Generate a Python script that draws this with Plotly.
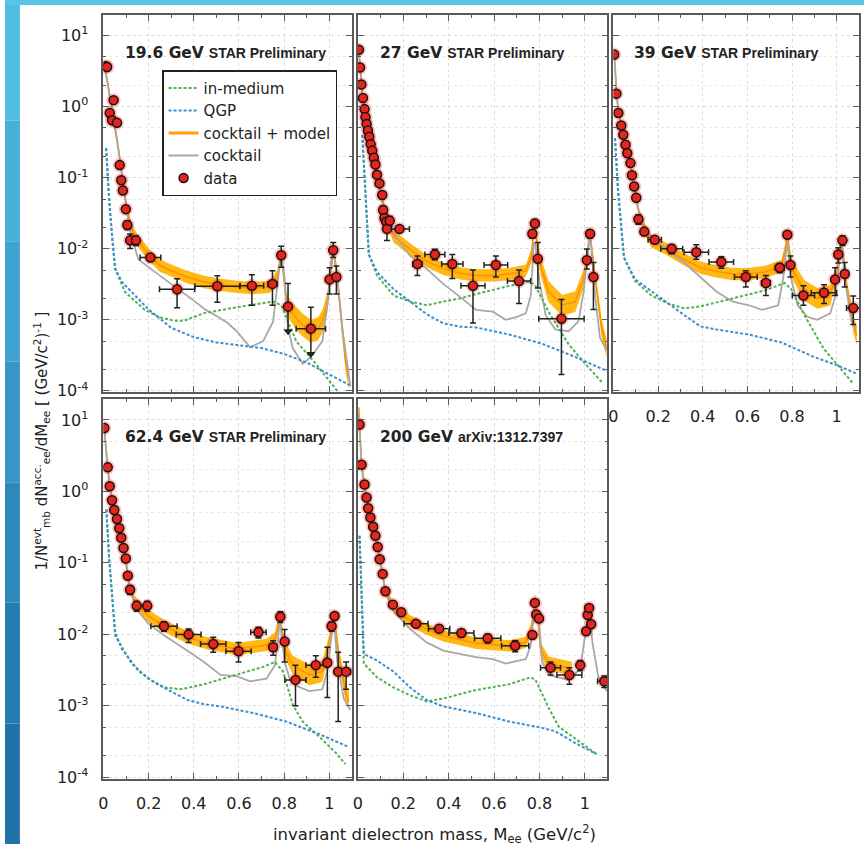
import plotly.graph_objects as go

FIG_W, FIG_H = 864, 852

# ---------------- data ----------------
PANEL_LABELS = ["19.6 GeV", "27 GeV", "39 GeV", "62.4 GeV", "200 GeV"]
PANEL_SOURCES = ["STAR Preliminary", "STAR Preliminary", "STAR Preliminary",
                 "STAR Preliminary", "arXiv:1312.7397"]

X_TICK_VALS = [0, 0.2, 0.4, 0.6, 0.8, 1.0]
X_TICK_TEXT = ["0", "0.2", "0.4", "0.6", "0.8", "1"]
X_MINOR_VALS = [0.1, 0.3, 0.5, 0.7, 0.9, 1.1]
Y_TICK_VALS = [1e-4, 1e-3, 1e-2, 1e-1, 1e0, 1e1]
Y_TICK_TEXT = ["10<sup>-4</sup>", "10<sup>-3</sup>", "10<sup>-2</sup>",
               "10<sup>-1</sup>", "10<sup>0</sup>", "10<sup>1</sup>"]
Y_MINOR_VALS = [2e-4, 5e-4, 2e-3, 5e-3, 2e-2, 5e-2, 0.2, 0.5, 2, 5, 20]

# ---- 19.6 GeV ----
P1_DX = [0.010, 0.016, 0.028, 0.038, 0.045, 0.060, 0.072, 0.079, 0.086, 0.099, 0.106, 0.118,
         0.144, 0.208, 0.326, 0.504, 0.657, 0.748, 0.787, 0.817, 0.918, 1.001, 1.017, 1.031]
P1_DY = [3.7, 3.6, 0.81, 0.64, 1.23, 0.59, 0.15, 0.092, 0.066, 0.036, 0.0216, 0.0131,
         0.0131, 0.0075, 0.00268, 0.00297, 0.0030, 0.0032, 0.0081, 0.00153, 0.00075, 0.0037, 0.0095, 0.0040]
P1_UP = [0, 0, 0, 0, 0, 0, 0, 0, 0, 0.004, 0.003, 0.003,
         0.002, 0.0008, 0.0011, 0.0012, 0.0013, 0.0017, 0.0027, 0.0017, 0.00075, 0.0017, 0.0027, 0.0017]
P1_DN = [0, 0, 0, 0, 0, 0, 0, 0, 0, 0.004, 0.003, 0.003,
         0.002, 0.0008, 0.0012, 0.0012, 0.0014, 0.0016, 0.0026, 0.00084, 0.00042, 0.0014, 0.002, 0.0017]
P1_XE = [0, 0, 0, 0, 0, 0, 0, 0, 0, 0, 0, 0,
         0, 0.046, 0.078, 0.099, 0.052, 0.02, 0, 0, 0.065, 0, 0, 0]
P1_UL_X = [0.817, 0.918]
P1_UL_Y = [0.00069, 0.00033]

P1_QGP_X = [0.012, 0.025, 0.04, 0.052, 0.082, 0.154, 0.2, 0.3, 0.4, 0.5, 0.6, 0.7, 0.8, 0.9, 1.0, 1.09]
P1_QGP_Y = [0.26, 0.05, 0.013, 0.0052, 0.0034, 0.002, 0.0014, 0.00077, 0.00057, 0.00048, 0.00044,
            0.00040, 0.00033, 0.00025, 0.00017, 0.00012]
P1_MED_X = [0.012, 0.025, 0.04, 0.052, 0.096, 0.183, 0.25, 0.314, 0.358, 0.445, 0.59, 0.70, 0.751,
            0.787, 0.82, 0.853, 0.94, 1.03, 1.09]
P1_MED_Y = [0.26, 0.05, 0.013, 0.0052, 0.00245, 0.00138, 0.00108, 0.00097, 0.00097, 0.00124, 0.0015,
            0.0017, 0.0018, 0.0016, 0.0009, 0.0005, 0.00024, 0.000103, 0.00006]
P1_COCK_X = [0.005, 0.02, 0.04, 0.06, 0.08, 0.1, 0.12, 0.154, 0.21, 0.27, 0.33, 0.387, 0.45, 0.504,
             0.55, 0.59, 0.649, 0.707, 0.751, 0.773, 0.787, 0.802, 0.817, 0.838, 0.882, 0.918, 0.969,
             0.995, 1.006, 1.018, 1.035, 1.057, 1.093]
P1_COCK_Y = [3.8, 2.0, 0.8, 0.33, 0.12, 0.04, 0.017, 0.0071, 0.0052, 0.0038, 0.0027, 0.002, 0.0014,
             0.00111, 0.0009, 0.00069, 0.00041, 0.0005, 0.00095, 0.0038, 0.0087, 0.0038, 0.00077,
             0.0004, 0.00024, 0.0003, 0.0005, 0.002, 0.0064, 0.0095, 0.0039, 0.00077, 0.000115]
P1_MOD_X = [0.003, 0.02, 0.04, 0.06, 0.08, 0.1, 0.12, 0.135, 0.154, 0.208, 0.25, 0.3, 0.37, 0.445,
            0.52, 0.59, 0.66, 0.736, 0.77, 0.787, 0.80, 0.809, 0.83, 0.853, 0.88, 0.918, 0.95, 0.969,
            0.99, 0.999, 1.018, 1.035, 1.05, 1.071, 1.085]
P1_MOD_Y = [4.0, 2.1, 0.85, 0.36, 0.13, 0.045, 0.022, 0.016, 0.0127, 0.0078, 0.0058, 0.0049, 0.004,
            0.0034, 0.0031, 0.0029, 0.0028, 0.0029, 0.004, 0.009, 0.0035, 0.0018, 0.0013, 0.00105,
            0.00085, 0.00069, 0.00075, 0.00095, 0.0017, 0.0028, 0.0098, 0.004, 0.0012, 0.00027, 0.00015]
P1_BAND = [1.05, 1.05, 1.05, 1.08, 1.1, 1.12, 1.15, 1.2, 1.22, 1.22, 1.22, 1.22, 1.22, 1.22,
           1.22, 1.22, 1.22, 1.22, 1.25, 1.25, 1.3, 1.35, 1.4, 1.45, 1.45, 1.45, 1.45, 1.45,
           1.4, 1.35, 1.25, 1.3, 1.4, 1.4, 1.4]

# ---- 27 GeV ----
P2_DX = [0.004, 0.009, 0.015, 0.022, 0.029, 0.033, 0.038, 0.044, 0.050, 0.056, 0.063, 0.070,
         0.077, 0.084, 0.095, 0.107, 0.111, 0.117, 0.125, 0.128, 0.140, 0.183, 0.262, 0.339,
         0.416, 0.507, 0.608, 0.710, 0.769, 0.780, 0.793, 0.897, 1.009, 1.023, 1.038]
P2_DY = [6.3, 3.54, 2.04, 1.32, 0.92, 0.71, 0.57, 0.46, 0.376, 0.295, 0.24, 0.19,
         0.153, 0.11, 0.083, 0.057, 0.035, 0.027, 0.024, 0.019, 0.0247, 0.019, 0.0061, 0.0083,
         0.0061, 0.0030, 0.0059, 0.0035, 0.0162, 0.0227, 0.0072, 0.00103, 0.0069, 0.0162, 0.0040]
P2_UP = [0, 0, 0, 0, 0, 0, 0, 0, 0, 0, 0, 0, 0, 0, 0,
         0.006, 0.005, 0.004, 0.004, 0.003, 0.004, 0.002, 0.0018, 0.0015, 0.0022, 0.002, 0.002,
         0.0015, 0.002, 0.003, 0.005, 0.0009, 0.003, 0.002, 0.0024]
P2_DN = [0, 0, 0, 0, 0, 0, 0, 0, 0, 0, 0, 0, 0, 0, 0,
         0.006, 0.005, 0.004, 0.004, 0.006, 0.004, 0.002, 0.0019, 0.0013, 0.0023, 0.0021, 0.0019,
         0.0018, 0.002, 0.003, 0.0044, 0.00086, 0.0017, 0.002, 0.0026]
P2_XE = [0, 0, 0, 0, 0, 0, 0, 0, 0, 0, 0, 0, 0, 0, 0, 0, 0, 0, 0, 0, 0,
         0.044, 0.02, 0.044, 0.047, 0.053, 0.052, 0.051, 0, 0, 0, 0.10, 0, 0, 0]

P2_QGP_X = [0.019, 0.03, 0.04, 0.048, 0.084, 0.157, 0.23, 0.303, 0.376, 0.45, 0.521, 0.667, 0.812,
            0.958, 1.074, 1.1]
P2_QGP_Y = [0.4, 0.08, 0.02, 0.0083, 0.0047, 0.0027, 0.0018, 0.0012, 0.00089, 0.0008, 0.00078,
            0.00062, 0.00046, 0.0003, 0.000205, 0.00019]
P2_MED_X = [0.019, 0.03, 0.04, 0.048, 0.084, 0.157, 0.23, 0.303, 0.376, 0.45, 0.521, 0.667, 0.754,
            0.78, 0.84, 0.929, 1.002, 1.074]
P2_MED_Y = [0.4, 0.08, 0.02, 0.0083, 0.0042, 0.0022, 0.0018, 0.0016, 0.0018, 0.002, 0.0023, 0.003,
            0.0034, 0.0031, 0.0013, 0.00045, 0.00024, 0.000134]
P2_COCK_X = [0.003, 0.01, 0.02, 0.04, 0.06, 0.08, 0.1, 0.12, 0.157, 0.23, 0.303, 0.376, 0.45,
             0.521, 0.594, 0.652, 0.70, 0.74, 0.762, 0.775, 0.782, 0.798, 0.827, 0.87, 0.929,
             0.972, 0.995, 1.009, 1.023, 1.045, 1.067, 1.096]
P2_COCK_Y = [6.5, 3.2, 1.4, 0.5, 0.25, 0.12, 0.058, 0.028, 0.0165, 0.0079, 0.0052, 0.0032, 0.0021,
             0.00138, 0.0013, 0.001, 0.0011, 0.00123, 0.0022, 0.012, 0.012, 0.0038, 0.00117,
             0.00073, 0.00069, 0.00095, 0.0025, 0.0067, 0.0175, 0.0022, 0.00056, 0.00037]
P2_MOD_X = [0.003, 0.01, 0.02, 0.04, 0.06, 0.08, 0.1, 0.115, 0.128, 0.157, 0.23, 0.303, 0.376,
            0.45, 0.521, 0.6, 0.667, 0.74, 0.765, 0.777, 0.79, 0.805, 0.84, 0.9, 0.958, 0.995,
            1.01, 1.023, 1.045, 1.074, 1.096]
P2_MOD_Y = [6.8, 3.3, 1.5, 0.55, 0.27, 0.13, 0.068, 0.038, 0.025, 0.0149, 0.0098, 0.0067, 0.0052,
            0.0045, 0.0042, 0.0042, 0.0044, 0.0049, 0.008, 0.0227, 0.012, 0.0057, 0.0025, 0.0016,
            0.0018, 0.0038, 0.008, 0.016, 0.004, 0.00077, 0.0004]
P2_BAND = [1.05, 1.05, 1.05, 1.06, 1.08, 1.1, 1.12, 1.15, 1.2, 1.22, 1.22, 1.22, 1.22,
           1.22, 1.22, 1.22, 1.22, 1.22, 1.25, 1.25, 1.3, 1.35, 1.4, 1.4, 1.4, 1.35,
           1.3, 1.25, 1.3, 1.35, 1.35]

# ---- 39 GeV ----
P3_DX = [0.003, 0.013, 0.022, 0.035, 0.044, 0.054, 0.062, 0.076, 0.083, 0.093, 0.102, 0.112,
         0.138, 0.185, 0.261, 0.371, 0.483, 0.593, 0.683, 0.745, 0.779, 0.793, 0.851, 0.943,
         0.993, 1.007, 1.026, 1.036, 1.074]
P3_DY = [5.4, 1.52, 0.81, 0.54, 0.40, 0.29, 0.22, 0.16, 0.108, 0.075, 0.052, 0.026,
         0.0174, 0.0134, 0.010, 0.0089, 0.0065, 0.0040, 0.0033, 0.0054, 0.0157, 0.0059, 0.0022,
         0.0024, 0.0037, 0.0083, 0.0131, 0.0044, 0.00146]
P3_UP = [0, 0, 0, 0, 0, 0, 0, 0, 0, 0, 0,
         0.004, 0.002, 0.0015, 0.0015, 0.0025, 0.0012, 0.0009, 0.0009, 0.0008, 0.0015, 0.002,
         0.0008, 0.0007, 0.0017, 0.002, 0.002, 0.002, 0.0007]
P3_DN = [0, 0, 0, 0, 0, 0, 0, 0, 0, 0, 0,
         0.004, 0.002, 0.0015, 0.0015, 0.0018, 0.0012, 0.0011, 0.0011, 0.0008, 0.0015, 0.0019,
         0.0006, 0.0007, 0.0015, 0.002, 0.002, 0.0015, 0.0006]
P3_XE = [0, 0, 0, 0, 0, 0, 0, 0, 0, 0, 0, 0, 0,
         0.03, 0.049, 0.055, 0.055, 0.051, 0.02, 0.02, 0, 0, 0.05, 0.057, 0, 0, 0, 0, 0.03]

P3_QGP_X = [0.007, 0.02, 0.035, 0.047, 0.097, 0.17, 0.243, 0.316, 0.389, 0.461, 0.607, 0.752,
            0.898, 1.0, 1.073, 1.09]
P3_QGP_Y = [0.36, 0.07, 0.02, 0.0075, 0.0037, 0.0025, 0.0017, 0.00117, 0.00081, 0.00073, 0.00062,
            0.00048, 0.0003, 0.00023, 0.000184, 0.000175]
P3_MED_X = [0.007, 0.02, 0.035, 0.047, 0.097, 0.17, 0.243, 0.316, 0.389, 0.534, 0.68, 0.767,
            0.796, 0.855, 0.942, 1.015, 1.073]
P3_MED_Y = [0.36, 0.07, 0.02, 0.0075, 0.0035, 0.0022, 0.0017, 0.00145, 0.00154, 0.002, 0.0026,
            0.0033, 0.0027, 0.00117, 0.00039, 0.00021, 0.000127]
P3_COCK_X = [0.003, 0.02, 0.04, 0.06, 0.08, 0.1, 0.12, 0.141, 0.19, 0.243, 0.316, 0.389, 0.461,
             0.534, 0.607, 0.665, 0.738, 0.76, 0.779, 0.796, 0.825, 0.869, 0.913, 0.971, 0.995,
             1.003, 1.022, 1.036, 1.066, 1.087]
P3_COCK_Y = [5.5, 0.95, 0.45, 0.25, 0.13, 0.05, 0.027, 0.0184, 0.013, 0.0097, 0.0064, 0.004,
             0.0025, 0.0018, 0.0016, 0.00138, 0.0016, 0.0038, 0.0126, 0.0038, 0.0016, 0.0011,
             0.001, 0.00123, 0.0022, 0.0038, 0.012, 0.0038, 0.00095, 0.00077]
P3_MOD_X = [0.003, 0.013, 0.022, 0.035, 0.054, 0.076, 0.093, 0.105, 0.115, 0.14, 0.17, 0.243,
            0.316, 0.389, 0.46, 0.534, 0.6, 0.68, 0.752, 0.768, 0.779, 0.79, 0.803, 0.855, 0.913,
            0.971, 1.0, 1.022, 1.044, 1.076, 1.09]
P3_MOD_Y = [5.6, 1.6, 0.85, 0.55, 0.3, 0.16, 0.08, 0.05, 0.032, 0.019, 0.0127, 0.0097, 0.0071,
            0.0054, 0.0048, 0.0044, 0.0044, 0.0047, 0.0057, 0.009, 0.0157, 0.008, 0.0049, 0.0026,
            0.002, 0.0022, 0.0047, 0.0134, 0.003, 0.00085, 0.0006]
P3_BAND = [1.05, 1.05, 1.05, 1.05, 1.06, 1.08, 1.1, 1.12, 1.15, 1.2, 1.22, 1.22, 1.22,
           1.22, 1.22, 1.22, 1.22, 1.22, 1.22, 1.25, 1.25, 1.3, 1.35, 1.4, 1.4,
           1.4, 1.3, 1.25, 1.3, 1.35, 1.35]

# ---- 62.4 GeV ----
P4_DX = [0.004, 0.019, 0.028, 0.038, 0.048, 0.060, 0.070, 0.079, 0.089, 0.099, 0.108, 0.118,
         0.147, 0.194, 0.268, 0.377, 0.486, 0.598, 0.686, 0.751, 0.783, 0.802, 0.850, 0.940,
         0.991, 1.010, 1.023, 1.039, 1.074]
P4_DY = [7.7, 2.17, 1.18, 0.75, 0.55, 0.41, 0.305, 0.224, 0.161, 0.115, 0.066, 0.042,
         0.025, 0.025, 0.013, 0.0099, 0.0073, 0.0058, 0.0107, 0.0066, 0.0176, 0.0079, 0.0023,
         0.0037, 0.0040, 0.013, 0.018, 0.0030, 0.0030]
P4_UP = [0, 0, 0, 0, 0, 0, 0, 0, 0, 0, 0,
         0.006, 0.004, 0.004, 0.002, 0.002, 0.0018, 0.0019, 0.0018, 0.0015, 0.003, 0.0038,
         0.0014, 0.0013, 0.0026, 0.002, 0.002, 0.0026, 0.0011]
P4_DN = [0, 0, 0, 0, 0, 0, 0, 0, 0, 0, 0,
         0.006, 0.004, 0.004, 0.002, 0.0022, 0.0017, 0.0017, 0.0018, 0.0015, 0.003, 0.0038,
         0.0013, 0.0012, 0.0027, 0.002, 0.002, 0.0024, 0.0013]
P4_XE = [0, 0, 0, 0, 0, 0, 0, 0, 0, 0, 0, 0, 0, 0,
         0.058, 0.055, 0.056, 0.056, 0.034, 0.015, 0, 0, 0.047, 0.044, 0, 0, 0, 0, 0.02]

P4_QGP_X = [0.013, 0.025, 0.04, 0.052, 0.082, 0.154, 0.227, 0.3, 0.372, 0.445, 0.518, 0.664,
            0.809, 0.955, 1.079]
P4_QGP_Y = [0.56, 0.12, 0.03, 0.0106, 0.0062, 0.0031, 0.0021, 0.0016, 0.0012, 0.00105, 0.00098,
            0.00079, 0.0006, 0.0004, 0.00027]
P4_MED_X = [0.013, 0.025, 0.04, 0.052, 0.125, 0.198, 0.271, 0.344, 0.445, 0.59, 0.707, 0.759,
            0.795, 0.838, 0.882, 0.955, 1.028, 1.071]
P4_MED_Y = [0.56, 0.12, 0.03, 0.0095, 0.0039, 0.0024, 0.0018, 0.0017, 0.002, 0.0027, 0.0035,
            0.0041, 0.003, 0.00103, 0.0006, 0.00037, 0.00022, 0.000152]
P4_COCK_X = [0.003, 0.019, 0.038, 0.06, 0.079, 0.099, 0.118, 0.154, 0.2, 0.271, 0.372, 0.445,
             0.518, 0.59, 0.649, 0.722, 0.759, 0.781, 0.802, 0.824, 0.853, 0.911, 0.969, 0.995,
             1.006, 1.02, 1.035, 1.064, 1.093]
P4_COCK_Y = [7.8, 2.0, 0.7, 0.38, 0.2, 0.1, 0.04, 0.021, 0.014, 0.0095, 0.0059, 0.0041, 0.0027,
             0.0026, 0.0022, 0.0024, 0.0037, 0.0154, 0.0041, 0.0024, 0.0019, 0.0016, 0.0017,
             0.0035, 0.0077, 0.0162, 0.0041, 0.00126, 0.00088]
P4_MOD_X = [0.003, 0.019, 0.028, 0.038, 0.06, 0.079, 0.099, 0.108, 0.118, 0.135, 0.154, 0.2,
            0.271, 0.372, 0.445, 0.59, 0.722, 0.759, 0.781, 0.802, 0.838, 0.911, 0.969, 0.995,
            1.006, 1.02, 1.042, 1.071, 1.086]
P4_MOD_Y = [8.0, 2.2, 1.2, 0.75, 0.41, 0.22, 0.115, 0.07, 0.045, 0.03, 0.025, 0.018, 0.013,
            0.0091, 0.0077, 0.0062, 0.0071, 0.0085, 0.017, 0.0062, 0.0037, 0.0027, 0.003, 0.0065,
            0.0106, 0.018, 0.005, 0.0016, 0.00115]
P4_BAND = [1.05, 1.05, 1.05, 1.05, 1.06, 1.08, 1.1, 1.12, 1.15, 1.2, 1.22, 1.22, 1.22,
           1.22, 1.22, 1.22, 1.22, 1.25, 1.25, 1.3, 1.35, 1.4, 1.4, 1.35, 1.3, 1.25, 1.3,
           1.35, 1.35]

# ---- 200 GeV ----
P5_DX = [0.007, 0.016, 0.029, 0.038, 0.045, 0.055, 0.067, 0.077, 0.087, 0.096, 0.109, 0.121,
         0.154, 0.191, 0.256, 0.358, 0.456, 0.572, 0.693, 0.769, 0.780, 0.786, 0.798, 0.849,
         0.932, 0.980, 1.006, 1.013, 1.019, 1.028, 1.086]
P5_DY = [8.6, 2.36, 1.25, 0.82, 0.58, 0.43, 0.32, 0.24, 0.167, 0.112, 0.07, 0.04,
         0.026, 0.0204, 0.014, 0.012, 0.0104, 0.0088, 0.0069, 0.0098, 0.0275, 0.019, 0.0166,
         0.0034, 0.0027, 0.0037, 0.011, 0.0186, 0.0234, 0.0138, 0.0022]
P5_UP = [0, 0, 0, 0, 0, 0, 0, 0, 0, 0, 0, 0, 0, 0,
         0.0015, 0.0013, 0.0012, 0.0012, 0.0012, 0.001, 0.002, 0.0015, 0.0015, 0.0007, 0.0007,
         0.0006, 0.001, 0.0015, 0.0015, 0.001, 0.0004]
P5_DN = [0, 0, 0, 0, 0, 0, 0, 0, 0, 0, 0, 0, 0, 0,
         0.0015, 0.0013, 0.0012, 0.0012, 0.0012, 0.001, 0.002, 0.0015, 0.0015, 0.0007, 0.0007,
         0.0006, 0.001, 0.0015, 0.0015, 0.001, 0.0004]
P5_XE = [0, 0, 0, 0, 0, 0, 0, 0, 0, 0, 0, 0, 0, 0,
         0.053, 0.047, 0.055, 0.058, 0.06, 0, 0, 0, 0, 0.044, 0.055, 0, 0, 0, 0, 0, 0.03]

P5_QGP_X = [0.007, 0.015, 0.022, 0.026, 0.084, 0.157, 0.23, 0.303, 0.376, 0.521, 0.667, 0.812,
            0.87, 0.958, 1.052]
P5_QGP_Y = [0.24, 0.05, 0.01, 0.0053, 0.0043, 0.003, 0.0018, 0.0012, 0.00098, 0.00079, 0.0006,
            0.00049, 0.00044, 0.0003, 0.00021]
P5_MED_X = [0.007, 0.015, 0.022, 0.026, 0.084, 0.157, 0.23, 0.303, 0.376, 0.521, 0.667, 0.761,
            0.783, 0.841, 0.885, 0.958, 1.052]
P5_MED_Y = [0.24, 0.05, 0.01, 0.0039, 0.0025, 0.0018, 0.0014, 0.00115, 0.00126, 0.00166, 0.002,
            0.0025, 0.0023, 0.00093, 0.00051, 0.00035, 0.00021]
P5_COCK_X = [0.004, 0.016, 0.029, 0.045, 0.067, 0.087, 0.109, 0.121, 0.157, 0.23, 0.303, 0.376,
             0.521, 0.594, 0.652, 0.74, 0.761, 0.78, 0.798, 0.812, 0.841, 0.929, 0.98, 1.002,
             1.019, 1.034, 1.06, 1.096]
P5_COCK_Y = [12, 2.2, 1.15, 0.55, 0.3, 0.16, 0.066, 0.038, 0.021, 0.0118, 0.0077, 0.0059, 0.0048,
             0.0045, 0.0039, 0.0045, 0.0069, 0.025, 0.016, 0.0041, 0.0027, 0.0023, 0.0033, 0.0106,
             0.0234, 0.0075, 0.0025, 0.0016]
P5_MOD_X = [0.004, 0.016, 0.029, 0.045, 0.067, 0.087, 0.109, 0.121, 0.157, 0.23, 0.303, 0.376,
            0.521, 0.667, 0.74, 0.765, 0.78, 0.792, 0.805, 0.841, 0.943]
P5_MOD_Y = [15, 2.4, 1.25, 0.58, 0.32, 0.167, 0.07, 0.04, 0.0234, 0.0154, 0.0118, 0.0095, 0.0075,
            0.0069, 0.0077, 0.012, 0.0305, 0.018, 0.0062, 0.0039, 0.0033]
P5_BAND = [1.05, 1.05, 1.05, 1.05, 1.06, 1.08, 1.1, 1.12, 1.2, 1.2, 1.2, 1.2, 1.2,
           1.2, 1.2, 1.22, 1.22, 1.22, 1.25, 1.25, 1.25]

DATA_X = [P1_DX, P2_DX, P3_DX, P4_DX, P5_DX]
DATA_Y = [P1_DY, P2_DY, P3_DY, P4_DY, P5_DY]
DATA_UP = [P1_UP, P2_UP, P3_UP, P4_UP, P5_UP]
DATA_DN = [P1_DN, P2_DN, P3_DN, P4_DN, P5_DN]
DATA_XE = [P1_XE, P2_XE, P3_XE, P4_XE, P5_XE]
QGP_X = [P1_QGP_X, P2_QGP_X, P3_QGP_X, P4_QGP_X, P5_QGP_X]
QGP_Y = [P1_QGP_Y, P2_QGP_Y, P3_QGP_Y, P4_QGP_Y, P5_QGP_Y]
MED_X = [P1_MED_X, P2_MED_X, P3_MED_X, P4_MED_X, P5_MED_X]
MED_Y = [P1_MED_Y, P2_MED_Y, P3_MED_Y, P4_MED_Y, P5_MED_Y]
COCK_X = [P1_COCK_X, P2_COCK_X, P3_COCK_X, P4_COCK_X, P5_COCK_X]
COCK_Y = [P1_COCK_Y, P2_COCK_Y, P3_COCK_Y, P4_COCK_Y, P5_COCK_Y]
MOD_X = [P1_MOD_X, P2_MOD_X, P3_MOD_X, P4_MOD_X, P5_MOD_X]
MOD_Y = [P1_MOD_Y, P2_MOD_Y, P3_MOD_Y, P4_MOD_Y, P5_MOD_Y]
MOD_BAND = [P1_BAND, P2_BAND, P3_BAND, P4_BAND, P5_BAND]

# ---------------- styles ----------------
FONT = "Liberation Sans, Arial, Helvetica, sans-serif"
FONT_WIDE = "DejaVu Sans, Verdana, sans-serif"
C_GREEN = "#4fb34f"
C_BLUE = "#3a8fd2"
C_ORANGE_FILL = "rgba(255,178,0,0.92)"
C_ORANGE_LINE = "#ff9000"
C_GRAY = "#a8a8a8"
C_RED = "#e5241b"
C_FRAME = "#5a5a5a"
C_GRID = "#dcdcdc"
LINE_W = 1.6

# panel boxes in pixels (plot-area edges): (left, right, top, bottom)
PANEL_PX = [(99, 349, 15, 396), (355, 606, 15, 396), (612, 859, 15, 396),
            (99, 349, 403, 786), (355, 606, 403, 786)]
X_LABELS_ON = [False, False, True, True, True]
Y_LABELS_ON = [True, False, False, True, False]
TITLE_PX = [(119, 53), (375, 53), (631, 53), (119, 441), (375, 441)]

fig = go.Figure()


def ax_names(i):
    s = "" if i == 0 else str(i + 1)
    return "x" + s, "y" + s, "xaxis" + s, "yaxis" + s


# legend entries (dummy traces)
DASH = "3px,2px"
legend_specs = [
    ("in-medium", dict(color=C_GREEN, width=2, dash=DASH), "lines", None),
    ("QGP", dict(color=C_BLUE, width=2, dash=DASH), "lines", None),
    ("cocktail + model", dict(color="#ffa200", width=3), "lines", None),
    ("cocktail", dict(color=C_GRAY, width=2), "lines", None),
    ("data", None, "markers", dict(size=9, color=C_RED, line=dict(color="#111", width=1.5))),
]
for name, line, mode, marker in legend_specs:
    kw = dict(x=[None], y=[None], name=name, mode=mode, showlegend=True,
              xaxis="x", yaxis="y", hoverinfo="skip")
    if line:
        kw["line"] = line
    if marker:
        kw["marker"] = marker
    fig.add_trace(go.Scatter(**kw))

for i in range(5):
    xa, ya, _, _ = ax_names(i)
    mx, my, mb = MOD_X[i], MOD_Y[i], MOD_BAND[i]
    upper = [v * f for v, f in zip(my, mb)]
    lower = [v / f for v, f in zip(my, mb)]
    fig.add_trace(go.Scatter(x=mx + mx[::-1], y=upper + lower[::-1], fill="toself",
                             fillcolor=C_ORANGE_FILL, line=dict(width=0), mode="lines",
                             showlegend=False, hoverinfo="skip", xaxis=xa, yaxis=ya))
    fig.add_trace(go.Scatter(x=mx, y=my, mode="lines", line=dict(color=C_ORANGE_LINE, width=1.5),
                             showlegend=False, hoverinfo="skip", xaxis=xa, yaxis=ya))
    fig.add_trace(go.Scatter(x=COCK_X[i], y=COCK_Y[i], mode="lines",
                             line=dict(color=C_GRAY, width=1.8),
                             showlegend=False, xaxis=xa, yaxis=ya))
    fig.add_trace(go.Scatter(x=MED_X[i], y=MED_Y[i], mode="lines",
                             line=dict(color=C_GREEN, width=2, dash=DASH),
                             showlegend=False, xaxis=xa, yaxis=ya))
    fig.add_trace(go.Scatter(x=QGP_X[i], y=QGP_Y[i], mode="lines",
                             line=dict(color=C_BLUE, width=2, dash=DASH),
                             showlegend=False, xaxis=xa, yaxis=ya))
    fig.add_trace(go.Scatter(x=DATA_X[i], y=DATA_Y[i], mode="markers",
                             marker=dict(size=14, color="rgba(255,50,40,0.30)"),
                             showlegend=False, hoverinfo="skip", xaxis=xa, yaxis=ya))
    fig.add_trace(go.Scatter(
        x=DATA_X[i], y=DATA_Y[i], mode="markers",
        marker=dict(size=9, color=C_RED, line=dict(color="#111", width=1.5)),
        error_y=dict(type="data", symmetric=False, array=DATA_UP[i], arrayminus=DATA_DN[i],
                     color="#222", thickness=1.5, width=3),
        error_x=dict(type="data", array=DATA_XE[i], color="#222", thickness=1.5, width=3),
        showlegend=False, xaxis=xa, yaxis=ya))

# upper-limit arrows in the 19.6 GeV panel
fig.add_trace(go.Scatter(x=P1_UL_X, y=P1_UL_Y, mode="markers",
                         marker=dict(symbol="triangle-down", size=8, color="#222"),
                         showlegend=False, xaxis="x", yaxis="y"))

layout = dict(
    width=FIG_W, height=FIG_H, autosize=False,
    margin=dict(l=0, r=0, t=0, b=0),
    paper_bgcolor="white", plot_bgcolor="white",
    font=dict(family=FONT, size=16, color="#222"),
    showlegend=True,
    legend=dict(x=158 / FIG_W, y=1 - 71 / FIG_H, xanchor="left", yanchor="top",
                bgcolor="white", bordercolor="#222", borderwidth=1.5,
                font=dict(family=FONT_WIDE, size=15, color="#222"), itemwidth=30,
                tracegroupgap=0, traceorder="normal"),
)

for i, (l, r, t, b) in enumerate(PANEL_PX):
    xa, ya, xk, yk = ax_names(i)
    layout[xk] = dict(
        domain=[l / FIG_W, r / FIG_W], anchor=ya, range=[0, 1.1],
        tickmode="array", tickvals=X_TICK_VALS, ticktext=X_TICK_TEXT,
        showticklabels=X_LABELS_ON[i], ticks="inside", ticklen=6, tickwidth=1,
        tickcolor=C_FRAME, mirror="allticks", showline=True, linecolor=C_FRAME, linewidth=LINE_W,
        showgrid=True, gridcolor=C_GRID, griddash="dot", gridwidth=1, zeroline=False,
        tickfont=dict(size=16, family=FONT_WIDE, color="#222"), ticklabelstandoff=9,
        minor=dict(tickvals=X_MINOR_VALS, ticks="inside", ticklen=3, tickcolor=C_FRAME,
                   showgrid=False),
    )
    layout[yk] = dict(
        domain=[1 - b / FIG_H, 1 - t / FIG_H], anchor=xa, type="log", range=[-4.02, 1.29],
        tickmode="array", tickvals=Y_TICK_VALS, ticktext=Y_TICK_TEXT,
        showticklabels=Y_LABELS_ON[i], ticks="inside", ticklen=6, tickwidth=1,
        tickcolor=C_FRAME, mirror="allticks", showline=True, linecolor=C_FRAME, linewidth=LINE_W,
        showgrid=True, gridcolor=C_GRID, griddash="dot", gridwidth=1, zeroline=False,
        tickfont=dict(size=16, family=FONT_WIDE, color="#222"), ticklabelstandoff=10,
        minor=dict(tickvals=Y_MINOR_VALS, ticks="inside", ticklen=3, tickcolor=C_FRAME,
                   showgrid=True, gridcolor="#e8e8e8", griddash="dot"),
    )

annotations = []
for i in range(5):
    px, py = TITLE_PX[i]
    annotations.append(dict(
        xref="paper", yref="paper", x=px / FIG_W, y=1 - py / FIG_H,
        xanchor="left", yanchor="middle", showarrow=False,
        text="<b>%s</b> <b><span style='font-family:Liberation Sans;font-size:14px'>%s</span></b>"
             % (PANEL_LABELS[i], PANEL_SOURCES[i]),
        font=dict(family=FONT_WIDE, size=15.5, color="#222")))

annotations.append(dict(
    xref="paper", yref="paper", x=432 / FIG_W, y=1 - 842 / FIG_H, xanchor="center",
    yanchor="middle", showarrow=False,
    text="invariant dielectron mass, M<sub>ee</sub> (GeV/c<sup>2</sup>)",
    font=dict(family=FONT_WIDE, size=16.5, color="#222")))
annotations.append(dict(
    xref="paper", yref="paper", x=37 / FIG_W, y=1 - 445 / FIG_H, xanchor="center",
    yanchor="middle", showarrow=False, textangle=-90,
    text="1/N<sup>evt</sup><sub>mb</sub> dN<sup>acc.</sup><sub>ee</sub>/dM<sub>ee</sub> [ (GeV/c<sup>2</sup>)<sup>-1</sup> ]",
    font=dict(family=FONT_WIDE, size=15, color="#222")))
layout["annotations"] = annotations

# slide frame (blue strips)
shapes = []
strip_cols = ["#4fbde1", "#46b0d8", "#3ea3ce", "#3696c4", "#2e89b9", "#267caf", "#2073a6"]
n = len(strip_cols)
for k, c in enumerate(strip_cols):
    shapes.append(dict(type="rect", xref="paper", yref="paper", x0=0, x1=15 / FIG_W,
                       y0=1 - (k + 1) / n, y1=1 - k / n, fillcolor=c, line=dict(width=0),
                       layer="below"))
shapes.append(dict(type="rect", xref="paper", yref="paper", x0=0, x1=1,
                   y0=1 - 5 / FIG_H, y1=1, fillcolor="#58c4e6", line=dict(width=0), layer="below"))
layout["shapes"] = shapes

fig.update_layout(**layout)
fig.write_html("out.html", config={"displayModeBar": False},
               post_script="document.body.style.margin='0px';document.body.style.padding='0px';"
                           "document.body.style.overflow='hidden';")
